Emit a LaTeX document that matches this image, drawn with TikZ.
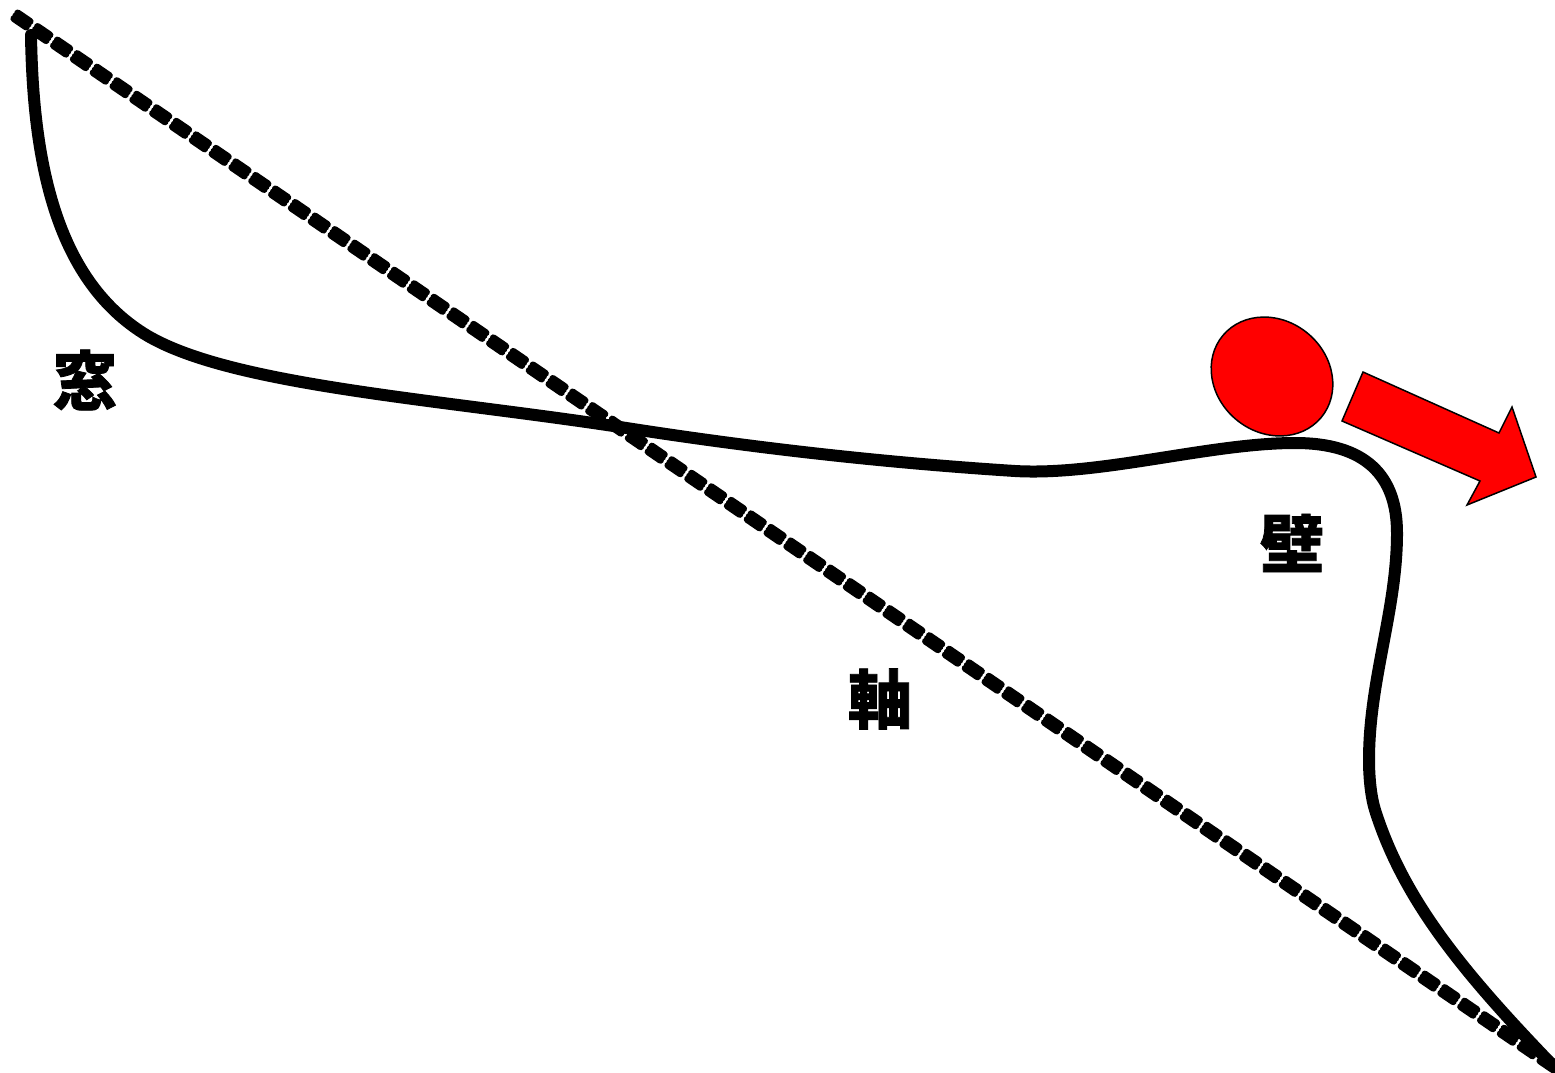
\documentclass[tikz,border=0pt]{standalone}
\usepackage{fontspec}
\newfontfamily\cjk[BoldFeatures={FakeBold=1.2}]{Noto Sans CJK JP}
\tikzset{
  axisline/.style={black,line width=7pt,line cap=round,dash pattern=on 15pt off 9pt},
  wallline/.style={black,line width=12pt,line join=round,line cap=round},
  redshape/.style={fill=red,draw=black,line width=1.5pt,line join=miter},
  kanji/.style={font=\cjk\bfseries\fontsize{64}{64}\selectfont,inner sep=0pt,text=black}
}
\begin{document}
\begin{tikzpicture}[x=1pt,y=-1pt]
\useasboundingbox (0,0) rectangle (1555,1073);
\clip (0,0) rectangle (1555,1073);
\coordinate (axisA) at (15.8,15.8);
\coordinate (axisB) at (1560,1070.5);
\coordinate (axisAl) at (13.9,18.6);
\coordinate (axisBl) at (1558.1,1073.3);
\coordinate (axisAu) at (17.7,13);
\coordinate (axisBu) at (1561.9,1067.7);
\coordinate (wallA) at (31,35);
\coordinate (wallB) at (1562,1075);
\draw[axisline] (axisA) -- (axisB);
\draw[axisline] (axisAl) -- (axisBl);
\draw[axisline] (axisAu) -- (axisBu);
\draw[wallline] (wallA) .. controls (33,160) and (55,277) .. (143,333)
  .. controls (225,385) and (430,398) .. (620,427)
  .. controls (760,449) and (890,463) .. (1015,471)
  .. controls (1100,476) and (1210,443) .. (1295,443)
  .. controls (1365,443) and (1397,475) .. (1397,533)
  .. controls (1397,610) and (1369,680) .. (1369,760)
  .. controls (1369,778) and (1371,797) .. (1375,810)
  .. controls (1405,905) and (1470,980) .. (wallB);
\draw[redshape] (1272,376.5) ellipse [x radius=64,y radius=56,rotate=-40];
\draw[redshape] (1363,372) -- (1499,433) -- (1512,407) -- (1536,477) -- (1467,505) -- (1480,481) -- (1342,421) -- cycle;
\node[kanji] (mado) at (85,380) {窓};
\node[kanji] (jiku) at (880,699) {軸};
\node[kanji] (kabe) at (1292,543) {壁};
\end{tikzpicture}
\end{document}
